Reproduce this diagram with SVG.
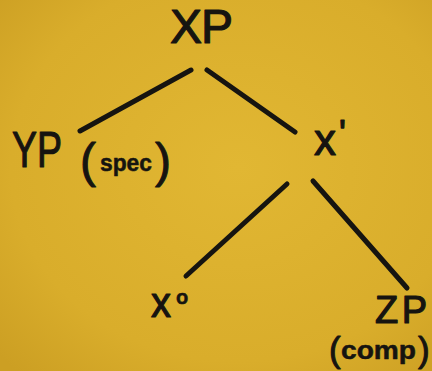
<svg xmlns="http://www.w3.org/2000/svg" width="432" height="371" viewBox="0 0 432 371">
  <defs>
    <radialGradient id="paper" cx="0.55" cy="0.45" r="0.75">
      <stop offset="0" stop-color="#e1b733"/>
      <stop offset="0.7" stop-color="#d9ad2b"/>
      <stop offset="1" stop-color="#cc9f23"/>
    </radialGradient>
    <style>
      .lbl { font-family: "Liberation Sans", "DejaVu Sans", sans-serif; fill: #161410; stroke: #161410; stroke-width: 1.2; stroke-linejoin: round; }
      .small { font-weight: bold; stroke-width: 0.5; }
      .paren { font-weight: normal; stroke-width: 1; }
      .edge { stroke: #161410; stroke-width: 5; stroke-linecap: round; fill: none; }
    </style>
  </defs>
  <rect width="432" height="371" fill="url(#paper)"/>

  <g id="connectors">
    <line class="edge" x1="191" y1="70" x2="80" y2="131"/>
    <line class="edge" x1="207" y1="70" x2="295" y2="132"/>
    <line class="edge" x1="287" y1="184" x2="186" y2="276"/>
    <line class="edge" x1="313" y1="181" x2="407" y2="288"/>
  </g>

  <g id="node-XP">
    <text class="lbl" x="170" y="43" font-size="48" textLength="63" lengthAdjust="spacing">XP</text>
  </g>

  <g id="node-YP">
    <text class="lbl" x="12" y="167" font-size="50" textLength="50" lengthAdjust="spacingAndGlyphs">YP</text>
    <text class="lbl paren" x="80" y="177" font-size="48">(</text>
    <text class="lbl small" x="100" y="171" font-size="23" textLength="52" lengthAdjust="spacingAndGlyphs">spec</text>
    <text class="lbl paren" x="155" y="177" font-size="48">)</text>
  </g>

  <g id="node-Xbar">
    <text class="lbl" x="314" y="155" font-size="44" textLength="22" lengthAdjust="spacingAndGlyphs">x</text>
    <text class="lbl" x="339" y="146" font-size="36">'</text>
  </g>

  <g id="node-X0">
    <text class="lbl" x="151" y="317" font-size="42" textLength="20" lengthAdjust="spacingAndGlyphs">x</text>
    <text class="lbl small" x="176" y="304" font-size="20">o</text>
  </g>

  <g id="node-ZP">
    <text class="lbl" x="375" y="323" font-size="38" textLength="52" lengthAdjust="spacing">ZP</text>
    <text class="lbl paren" x="329" y="362" font-size="35">(</text>
    <text class="lbl small" x="341" y="359" font-size="25" textLength="75" lengthAdjust="spacingAndGlyphs">comp</text>
    <text class="lbl paren" x="418" y="362" font-size="35">)</text>
  </g>
</svg>
